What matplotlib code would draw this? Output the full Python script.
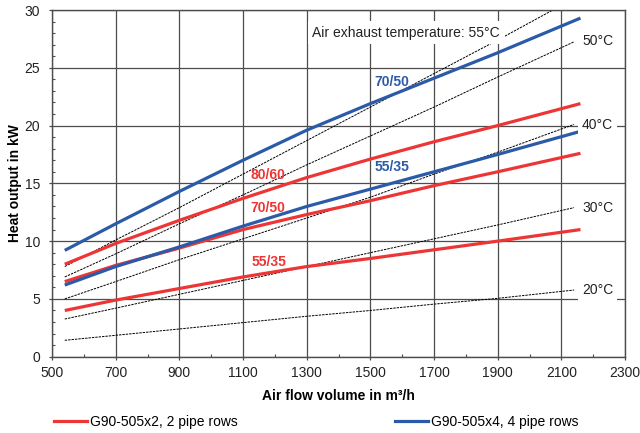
import matplotlib
matplotlib.use("Agg")
import matplotlib.pyplot as plt
from matplotlib.ticker import MultipleLocator
from matplotlib.lines import Line2D

plt.rcParams["font.family"] = ["Liberation Sans", "DejaVu Sans"]
plt.rcParams["font.size"] = 10

# --- data ---
air_flow = [540, 700, 900, 1100, 1300, 1500, 1700, 1900, 2160]
x2_80_60 = [8.0, 9.8, 11.8, 13.7, 15.5, 17.1, 18.6, 20.0, 21.9]
x2_70_50 = [6.5, 7.9, 9.4, 11.0, 12.3, 13.5, 14.8, 16.0, 17.6]
x2_55_35 = [4.0, 4.9, 5.9, 6.9, 7.8, 8.5, 9.25, 10.0, 11.0]
x4_70_50 = [9.2, 11.5, 14.3, 17.0, 19.6, 21.9, 24.1, 26.3, 29.3]
x4_55_35 = [6.2, 7.8, 9.5, 11.3, 13.0, 14.5, 16.0, 17.5, 19.5]

temp_flow = [540, 700, 900, 1100, 1300, 1500, 1700, 1900, 2140]
exhaust_55 = [7.8, 10.1, 12.9, 15.8, 18.7, 21.6, 24.5, 27.4, 31.0]
exhaust_50 = [6.9, 8.9, 11.5, 14.0, 16.6, 19.1, 21.6, 24.2, 27.25]
exhaust_40 = [5.0, 6.5, 8.4, 10.2, 12.0, 13.8, 15.8, 17.7, 20.1]
exhaust_30 = [3.26, 4.2, 5.4, 6.6, 7.8, 9.0, 10.2, 11.4, 12.9]
exhaust_20 = [1.42, 1.85, 2.4, 2.95, 3.5, 4.0, 4.55, 5.05, 5.77]

x_ticks = [500, 700, 900, 1100, 1300, 1500, 1700, 1900, 2100, 2300]

RED = "#EE3535"
BLUE = "#2B5BA8"
GRID = "#4d4d4d"

fig = plt.figure(figsize=(6.4, 4.33), dpi=100)
ax = fig.add_axes([0.0813, 0.1762, 0.8953, 0.8007])

# air exhaust temperature lines
for vals in [exhaust_55, exhaust_50, exhaust_40, exhaust_30, exhaust_20]:
    ax.plot(temp_flow, vals, color="black", lw=0.7, ls=(0, (2.5, 1)), zorder=2)

# heat output curves
for vals in [x2_80_60, x2_70_50, x2_55_35]:
    ax.plot(air_flow, vals, color=RED, lw=2.3, zorder=3, solid_capstyle="butt")
for vals in [x4_70_50, x4_55_35]:
    ax.plot(air_flow, vals, color=BLUE, lw=2.3, zorder=3, solid_capstyle="butt")

ax.set_xlim(500, 2300)
ax.set_ylim(0, 30)
ax.set_xticks(x_ticks)
ax.xaxis.set_minor_locator(MultipleLocator(100))
ax.yaxis.set_major_locator(MultipleLocator(5))
ax.yaxis.set_minor_locator(MultipleLocator(1))
ax.grid(which="major", color=GRID, lw=0.9)
ax.set_axisbelow(True)
ax.tick_params(which="major", direction="out", length=2.5, width=0.9, color=GRID,
               labelsize=10, labelcolor="#222222")
ax.tick_params(axis="x", which="major", pad=4.5)
ax.tick_params(axis="y", which="major", pad=6)
ax.tick_params(which="minor", direction="in", length=2.5, width=0.8, color=GRID)
for sp in ax.spines.values():
    sp.set_color(GRID)
    sp.set_linewidth(1.0)

ax.set_xlabel("Air flow volume in m³/h", fontweight="bold", fontsize=10, labelpad=6)
ax.set_ylabel("Heat output in kW", fontweight="bold", fontsize=10, labelpad=2)

# temperature labels
box = dict(facecolor="white", edgecolor="none", pad=3)
ax.text(1318, 28.05, "Air exhaust temperature: 55°C", va="center", ha="left",
        color="#222222", zorder=5, bbox=dict(facecolor="white", edgecolor="none", pad=3.5))
for y, lab in [(27.3, "50°C"), (20.07, "40°C"), (12.9, "30°C"), (5.77, "20°C")]:
    ax.text(2165, y, lab, va="center", ha="left", color="#222222", zorder=5, bbox=box)

# curve labels
ax.text(1124, 15.7, "80/60", color=RED, fontweight="bold", va="center", zorder=5)
ax.text(1124, 12.9, "70/50", color=RED, fontweight="bold", va="center", zorder=5)
ax.text(1128, 8.17, "55/35", color=RED, fontweight="bold", va="center", zorder=5)
ax.text(1513, 23.8, "70/50", color=BLUE, fontweight="bold", va="center", zorder=5)
ax.text(1513, 16.4, "55/35", color=BLUE, fontweight="bold", va="center", zorder=5)

handles = [Line2D([], [], color=RED, lw=2.3), Line2D([], [], color=BLUE, lw=2.3)]
labels = ["G90-505x2, 2 pipe rows", "G90-505x4, 4 pipe rows"]
fig.legend(handles, labels, loc="center", bbox_to_anchor=(0.494, 0.025), ncol=2,
           frameon=False, handlelength=2.4, handletextpad=0.2, columnspacing=11.3,
           fontsize=10)

fig.savefig("out.png", dpi=100)
